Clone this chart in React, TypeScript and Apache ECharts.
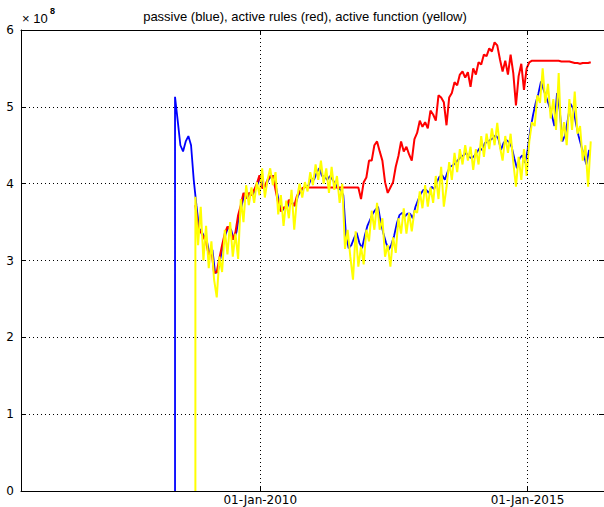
import React, { useEffect, useRef } from 'react';
import * as echarts from 'echarts';

const TITLE = 'passive (blue), active rules (red), active function (yellow)';
const X_MIN = 2005.521;
const X_MAX = 2016.433;
const X_TICKS = [2010, 2015];
const X_TICK_LABELS = ['01-Jan-2010', '01-Jan-2015'];
const Y_MIN = 0;
const Y_MAX = 6;
const Y_INTERVAL = 1;
const SCALE_BASE = '\u00d7 10';
const SCALE_EXP = '8';

// sampling step in years, series start dates (fractional years)
const STEP = 0.05;
const BLUE_START = 2008.404;
const RY_START = 2008.785;

// values in units of 1e8
const blueValues = [
  5.13, 4.82, 4.50, 4.42, 4.55, 4.62, 4.50, 4.05, 3.72, 3.42,
  3.37, 3.31, 3.24, 3.07, 3.14, 2.84, 2.85, 3.03, 3.20, 3.35,
  3.44, 3.40, 3.27, 3.37, 3.59, 3.72, 3.88, 3.81, 3.88, 3.85,
  3.92, 4.00, 4.11, 3.94, 3.97, 4.05, 4.10, 4.10, 3.92, 3.75,
  3.64, 3.69, 3.69, 3.79, 3.75, 3.71, 3.84, 3.90, 3.94, 3.96,
  3.98, 4.07, 4.05, 4.14, 4.20, 4.10, 4.09, 4.05, 4.10, 4.05,
  4.00, 3.94, 3.92, 3.85, 3.32, 3.16, 3.20, 3.29, 3.36, 3.23,
  3.16, 3.32, 3.45, 3.53, 3.61, 3.66, 3.70, 3.50, 3.35, 3.23,
  3.14, 3.21, 3.32, 3.48, 3.59, 3.62, 3.57, 3.61, 3.61, 3.55,
  3.70, 3.79, 3.87, 3.92, 3.92, 3.88, 3.96, 3.93, 4.02, 4.09,
  4.11, 4.05, 4.15, 4.22, 4.24, 4.27, 4.31, 4.35, 4.37, 4.40,
  4.35, 4.33, 4.36, 4.41, 4.46, 4.44, 4.53, 4.54, 4.57, 4.59,
  4.63, 4.59, 4.44, 4.53, 4.57, 4.54, 4.48, 4.33, 4.20, 4.33,
  4.37, 4.27, 4.44, 4.70, 4.89, 5.05, 5.17, 5.33, 5.22, 5.12,
  5.02, 4.90, 4.75, 5.18, 4.96, 4.55, 4.63, 4.83, 5.04, 4.98,
  4.80, 4.63, 4.50, 4.37, 4.25, 4.44,
];

const redValues = [
  3.72, 3.42, 3.37, 3.31, 3.24, 3.07, 3.14, 2.84, 2.85, 3.03,
  3.20, 3.35, 3.44, 3.40, 3.27, 3.37, 3.59, 3.72, 3.88, 3.81,
  3.88, 3.85, 3.92, 4.00, 4.11, 3.94, 3.97, 4.05, 4.10, 4.10,
  3.92, 3.75, 3.64, 3.69, 3.69, 3.79, 3.75, 3.71, 3.84, 3.90,
  3.94, 3.96, 3.95, 3.95, 3.95, 3.95, 3.95, 3.95, 3.95, 3.95,
  3.95, 3.95, 3.95, 3.95, 3.95, 3.95, 3.95, 3.95, 3.95, 3.95,
  3.95, 3.95, 3.80, 4.02, 4.08, 4.30, 4.30, 4.50, 4.55, 4.42,
  4.30, 4.02, 3.88, 3.95, 4.02, 4.22, 4.36, 4.55, 4.42, 4.48,
  4.38, 4.30, 4.58, 4.66, 4.82, 4.74, 4.80, 4.72, 4.95, 4.90,
  4.82, 5.15, 5.12, 5.06, 4.76, 5.12, 5.18, 5.32, 5.28, 5.42,
  5.46, 5.38, 5.45, 5.26, 5.50, 5.42, 5.58, 5.55, 5.68, 5.66,
  5.76, 5.72, 5.84, 5.80, 5.62, 5.46, 5.60, 5.42, 5.68, 5.44,
  5.02, 5.40, 5.56, 5.22, 5.50, 5.58, 5.60, 5.60, 5.60, 5.60,
  5.60, 5.60, 5.60, 5.60, 5.60, 5.60, 5.60, 5.59, 5.59, 5.59,
  5.59, 5.58, 5.57, 5.57, 5.56, 5.57, 5.57, 5.57, 5.58,
];

const yellowValues = [
  3.83, 3.20, 3.70, 3.00, 3.45, 2.90, 3.25, 2.75, 2.52, 3.05,
  2.85, 3.40, 3.08, 3.50, 3.05, 3.35, 3.02, 3.80, 3.50, 3.98,
  3.72, 3.95, 3.75, 4.02, 3.85, 4.20, 3.82, 4.05, 4.20, 3.98,
  4.15, 3.60, 3.85, 3.45, 3.78, 3.55, 3.92, 3.40, 3.80, 4.00,
  3.82, 4.02, 3.90, 4.15, 3.98, 4.25, 4.05, 4.30, 4.00, 4.20,
  3.88, 4.22, 3.92, 4.10, 3.75, 4.00, 3.15, 3.40, 3.05, 2.75,
  3.38, 2.92, 3.18, 2.95, 3.40, 3.25, 3.65, 3.40, 3.75, 3.40,
  3.55, 3.05, 3.20, 2.92, 3.30, 3.10, 3.55, 3.35, 3.68, 3.35,
  3.62, 3.38, 3.65, 3.62, 3.90, 3.68, 3.98, 3.70, 3.95, 3.75,
  4.10, 3.80, 4.22, 3.70, 3.95, 4.28, 4.05, 4.40, 4.15, 4.45,
  4.25, 4.50, 4.30, 4.48, 4.18, 4.45, 4.25, 4.62, 4.35, 4.65,
  4.45, 4.72, 4.50, 4.79, 4.48, 4.30, 4.62, 4.40, 4.65, 4.28,
  3.96, 4.35, 4.05, 4.45, 4.10, 4.55, 4.80, 4.75, 5.15, 5.05,
  5.50, 5.05, 5.30, 4.85, 5.10, 4.70, 5.44, 4.55, 4.80, 4.50,
  5.10, 4.70, 5.20, 4.65, 4.75, 4.30, 4.50, 3.96, 4.55,
];

function toSeries(start: number, values: number[], fromZero: boolean) {
  const pts: number[][] = fromZero ? [[start, 0]] : [];
  values.forEach((v, i) => pts.push([+(start + i * STEP).toFixed(4), v]));
  return pts;
}

const FONT = 'Liberation Sans';
const TICK_FONT = 'DejaVu Sans';

export default function App() {
  const ref = useRef<HTMLDivElement>(null);
  useEffect(() => {
    if (!ref.current) return;
    const chart = echarts.init(ref.current, undefined, { renderer: 'svg' });
    const tickLabel = (v: number) => {
      const k = X_TICKS.findIndex((t) => Math.abs(t - v) < 1e-6);
      return k >= 0 ? X_TICK_LABELS[k] : '';
    };
    const dotted = { color: '#000', width: 1, type: [1, 3] as number[] };
    chart.setOption({
      animation: false,
      backgroundColor: '#fff',
      grid: { left: 21, right: -1, top: 30, bottom: 16, containLabel: false },
      xAxis: [
        {
          type: 'value',
          min: X_MIN,
          max: X_MAX,
          position: 'bottom',
          axisLine: { show: true, onZero: false, lineStyle: { color: '#000', width: 1 } },
          axisTick: { show: true, inside: true, length: 5, customValues: X_TICKS, lineStyle: { color: '#000' } },
          axisLabel: {
            show: true,
            customValues: X_TICKS,
            formatter: tickLabel,
            color: '#000',
            fontSize: 12,
            fontFamily: TICK_FONT,
            margin: 3,
          },
          splitLine: { show: false },
        },
        {
          type: 'value',
          min: X_MIN,
          max: X_MAX,
          position: 'top',
          axisLine: { show: true, onZero: false, lineStyle: { color: '#000', width: 1 } },
          axisTick: { show: true, inside: true, length: 5, customValues: X_TICKS, lineStyle: { color: '#000' } },
          axisLabel: { show: false },
          splitLine: { show: false },
        },
      ],
      yAxis: [
        {
          type: 'value',
          min: Y_MIN,
          max: Y_MAX,
          interval: Y_INTERVAL,
          position: 'left',
          axisLine: { show: true, onZero: false, lineStyle: { color: '#000', width: 1 } },
          axisTick: { show: true, inside: true, length: 5, lineStyle: { color: '#000' } },
          axisLabel: { color: '#000', fontSize: 12, fontFamily: TICK_FONT, margin: 7 },
          splitLine: { show: true, lineStyle: dotted },
        },
        {
          type: 'value',
          min: Y_MIN,
          max: Y_MAX,
          interval: Y_INTERVAL,
          position: 'right',
          axisLine: { show: true, onZero: false, lineStyle: { color: '#000', width: 1 } },
          axisTick: { show: true, inside: true, length: 5, lineStyle: { color: '#000' } },
          axisLabel: { show: false },
          splitLine: { show: false },
        },
      ],
      series: [
        {
          name: 'passive',
          type: 'line',
          xAxisIndex: 0,
          yAxisIndex: 0,
          data: toSeries(BLUE_START, blueValues, true),
          showSymbol: false,
          symbol: 'none',
          lineStyle: { color: '#0000ff', width: 1.8 },
          itemStyle: { color: '#0000ff' },
          silent: true,
          markLine: {
            silent: true,
            symbol: ['none', 'none'],
            label: { show: false },
            lineStyle: dotted,
            data: X_TICKS.map((t) => ({ xAxis: t })),
          },
        },
        {
          name: 'active rules',
          type: 'line',
          data: toSeries(RY_START, redValues, false),
          showSymbol: false,
          symbol: 'none',
          lineStyle: { color: '#ff0000', width: 2 },
          itemStyle: { color: '#ff0000' },
          silent: true,
        },
        {
          name: 'active function',
          type: 'line',
          data: toSeries(RY_START, yellowValues, true),
          showSymbol: false,
          symbol: 'none',
          lineStyle: { color: '#ffff00', width: 2 },
          itemStyle: { color: '#ffff00' },
          silent: true,
        },
      ],
      graphic: [
        {
          type: 'text',
          x: 305,
          y: 16,
          style: { text: TITLE, fontSize: 13, fontFamily: FONT, fill: '#000', align: 'center', verticalAlign: 'middle' },
        },
        {
          type: 'text',
          x: 22,
          y: 18,
          style: { text: SCALE_BASE, fontSize: 13, fontFamily: FONT, fill: '#000', verticalAlign: 'middle' },
        },
        {
          type: 'text',
          x: 50,
          y: 11,
          style: { text: SCALE_EXP, fontSize: 9, fontWeight: 'bold', fontFamily: FONT, fill: '#000', verticalAlign: 'middle' },
        },
      ],
    });
    return () => chart.dispose();
  }, []);
  return (
    <div
      ref={ref}
      style={{ position: 'absolute', left: 0, top: 0, width: 604, height: 507, background: '#fff' }}
    />
  );
}
